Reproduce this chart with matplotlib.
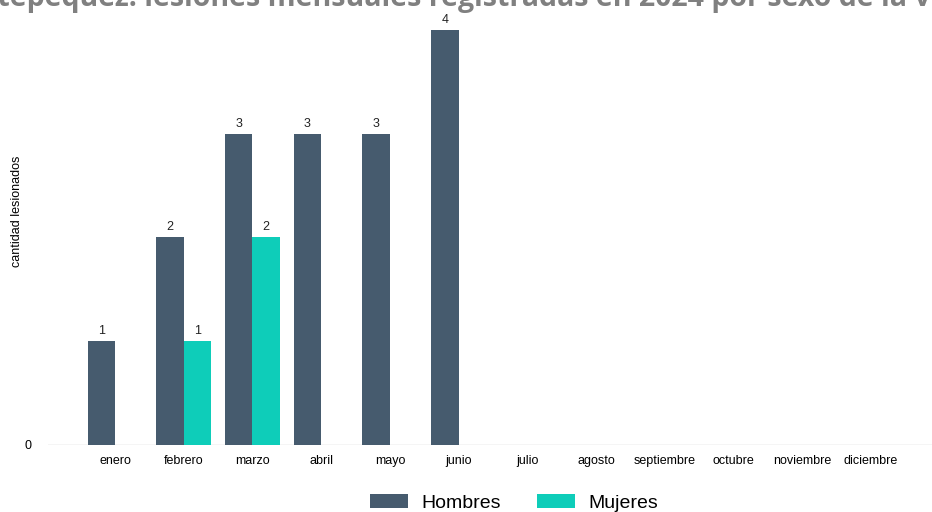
import numpy as np
import matplotlib.pyplot as plt

meses = ["enero", "febrero", "marzo", "abril", "mayo", "junio", "julio",
         "agosto", "septiembre", "octubre", "noviembre", "diciembre"]
hombres = [1, 2, 3, 3, 3, 4, 0, 0, 0, 0, 0, 0]
mujeres = [0, 1, 2, 0, 0, 0, 0, 0, 0, 0, 0, 0]
titulo = "Suchitepequez: lesiones mensuales registradas en 2024 por sexo de la víctima"

col_h = "#465b6e"
col_m = "#0ecdb9"

plt.rcParams['font.family'] = ['Liberation Sans', 'DejaVu Sans']

fig = plt.figure(figsize=(9.32, 5.12), dpi=100)
ax = fig.add_axes([0.0515, 0.131, 0.9485, 0.851])

x = np.arange(len(meses))
w = 0.4
b1 = ax.bar(x - w/2, hombres, w, color=col_h, label="Hombres")
b2 = ax.bar(x + w/2, mujeres, w, color=col_m, label="Mujeres")

for barras, vals in ((b1, hombres), (b2, mujeres)):
    for b, v in zip(barras, vals):
        if v > 0:
            ax.text(b.get_x() + b.get_width()/2, v + 0.04, str(v),
                    ha='center', va='bottom', fontsize=9, color='#222222')

ax.axhline(0, color='#d0d0d0', lw=1, zorder=0)
ax.set_xlim(-0.975, 11.89)
ax.set_ylim(0, 4.2)
ax.set_xticks(x)
ax.set_xticklabels(meses, fontsize=9)
ax.set_yticks([0])
ax.set_yticklabels(["0"], fontsize=9)
ax.tick_params(axis='x', length=0, pad=7)
ax.tick_params(axis='y', length=0, pad=12)
for s in ax.spines.values():
    s.set_visible(False)
ax.set_ylabel("cantidad lesionados", fontsize=9)
ax.yaxis.set_label_coords(-0.028, 0.537)

fig.legend(handles=[b1, b2], loc='center', bbox_to_anchor=(514/932, 1 - 503/512),
           ncol=2, frameon=False, fontsize=14, handlelength=1.95,
           handleheight=0.7, handletextpad=0.67, columnspacing=1.9)

fig.text(0.5 + 5/932, 1 - 6/512, titulo, ha='center', va='baseline',
         fontsize=20.5, fontweight='bold', color='#808080', family='Open Sans')

fig.savefig("out.png", dpi=100)
